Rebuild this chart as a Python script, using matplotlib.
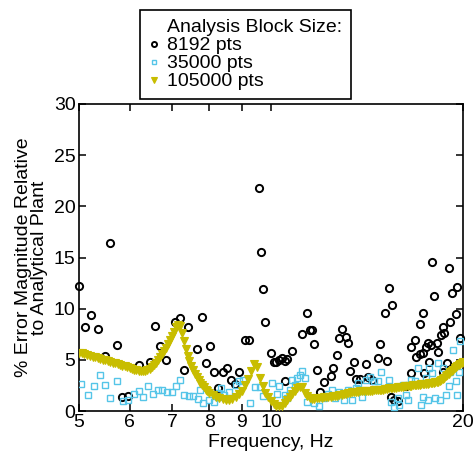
import matplotlib
matplotlib.use("Agg")
import matplotlib.pyplot as plt
from matplotlib.lines import Line2D
from matplotlib.ticker import FixedLocator, NullLocator, FixedFormatter

plt.rcParams['font.family'] = ['Liberation Sans', 'DejaVu Sans']

# 8192-pt block analysis (black circles): frequency (Hz), % error
f_8192 = [5.0, 5.11, 5.23, 5.36, 5.49, 5.6, 5.73, 5.85, 5.96, 6.22, 6.46, 6.57, 6.7, 6.84,
          7.07, 7.2, 7.3, 7.4, 7.66, 7.8, 7.9, 8.03, 8.15, 8.27, 8.4, 8.53, 8.65, 8.77, 8.9,
          9.1, 9.25, 9.57, 9.64, 9.7, 9.8, 10.0, 10.1, 10.2, 10.3, 10.4, 10.5, 10.5, 10.6, 10.8,
          11.2, 11.4, 11.5, 11.6, 11.7, 11.8, 11.95, 12.1, 12.4, 12.5, 12.7, 12.8, 12.9, 13.1,
          13.2, 13.3, 13.5, 13.6, 13.8, 14.1, 14.2, 14.4, 14.7, 14.8, 15.1, 15.2, 15.3, 15.4,
          15.5, 15.6, 15.8, 16.3, 16.6, 16.6, 16.8, 16.9, 17.1, 17.1, 17.3, 17.3, 17.4, 17.5,
          17.6, 17.7, 17.8, 17.9, 18.0, 18.2, 18.3, 18.5, 18.6, 18.6, 18.7, 18.9, 19.0, 19.1,
          19.2, 19.5, 19.6, 19.8]
e_8192 = [12.2, 8.2, 9.4, 8.0, 5.4, 16.4, 6.45, 1.4, 1.5, 4.5, 4.75, 8.3, 6.35, 5.0,
          8.7, 9.05, 4.0, 8.2, 6.1, 9.15, 4.65, 6.4, 3.85, 2.2, 3.8, 4.2, 3.0, 2.65, 3.85,
          6.95, 6.95, 21.8, 15.5, 11.9, 8.7, 5.7, 4.8, 4.8, 5.0, 5.15, 4.9, 2.95, 5.05, 5.85,
          7.5, 9.55, 7.9, 7.9, 6.55, 4.0, 1.85, 2.8, 3.4, 4.2, 5.5, 7.1, 8.0, 7.25,
          6.6, 3.95, 4.8, 3.1, 3.1, 4.55, 3.3, 3.0, 5.2, 6.5, 9.6, 4.9, 12.0, 1.4,
          10.4, 1.1, 1.0, 2.4, 6.3, 3.7, 6.95, 5.3, 8.5, 5.55, 9.55, 5.65, 3.7, 6.3,
          6.6, 4.8, 6.45, 14.6, 11.2, 6.6, 5.75, 7.4, 8.25, 3.85, 7.6, 4.65, 14.0, 8.65,
          11.5, 9.5, 12.15, 7.1]

# 35000-pt block analysis (cyan squares)
f_35000 = [5.04, 5.17, 5.28, 5.4, 5.5, 5.6, 5.74, 5.87, 5.97, 6.09, 6.2, 6.31, 6.42, 6.54,
           6.64, 6.75, 6.88, 7.0, 7.1, 7.2, 7.3, 7.44, 7.55, 7.67, 7.74, 7.83, 7.99, 8.13,
           8.25, 8.3, 8.35, 8.45, 8.58, 8.8, 8.9, 9.05, 9.28, 9.44, 9.6, 9.7, 10.05, 10.22,
           10.3, 10.5, 10.6, 10.7, 10.8, 10.9, 10.97, 11.1, 11.2, 11.3, 11.4, 11.7, 11.9,
           12.1, 12.3, 12.45, 12.6, 12.8, 13.0, 13.2, 13.4, 13.6, 13.7, 13.9, 14.1, 14.3,
           14.5, 14.7, 14.9, 15.1, 15.3, 15.4, 15.6, 15.8, 15.9, 16.1, 16.3, 16.4, 16.6,
           16.8, 17.0, 17.2, 17.3, 17.5, 17.6, 17.7, 17.9, 18.1, 18.3, 18.4, 18.6, 18.8,
           19.0, 19.1, 19.3, 19.5, 19.6, 19.7, 19.8]
e_35000 = [2.65, 1.6, 2.4, 3.5, 2.5, 1.25, 2.9, 1.0, 1.1, 1.65, 2.0, 1.4, 2.4, 1.7,
           2.05, 2.05, 1.9, 1.9, 2.4, 3.0, 1.55, 1.5, 1.45, 1.15, 2.05, 0.8, 1.1, 0.9,
           1.4, 1.75, 2.2, 1.55, 1.9, 2.5, 2.9, 3.0, 0.75, 2.3, 2.3, 1.45, 2.7, 1.7,
           2.4, 1.55, 1.25, 2.05, 3.0, 2.5, 3.2, 3.5, 3.9, 3.2, 0.9, 0.75, 0.45,
           1.25, 1.7, 2.05, 1.25, 1.9, 1.1, 2.05, 1.1, 2.2, 2.7, 1.4, 3.0, 3.35,
           2.9, 2.9, 3.85, 2.2, 3.0, 0.9, 0.4, 1.25, 0.6, 2.5, 1.55, 1.1, 3.0,
           2.9, 4.2, 0.6, 1.4, 3.2, 1.1, 4.2, 3.7, 1.25, 4.65, 1.1, 4.2, 1.55,
           2.4, 3.85, 6.0, 2.9, 1.55, 3.85, 6.8]

# 105000-pt block analysis (yellow triangles)
f_105000 = [5.0, 5.05, 5.1, 5.15, 5.2, 5.25, 5.3, 5.35, 5.4, 5.45,
            5.5, 5.55, 5.6, 5.65, 5.7, 5.75, 5.8, 5.85, 5.9, 5.95,
            6.0, 6.05, 6.1, 6.15, 6.2, 6.25, 6.3, 6.35, 6.4, 6.45,
            6.5, 6.55, 6.6, 6.65, 6.7, 6.75, 6.8, 6.85, 6.9, 6.95,
            7.0, 7.05, 7.1, 7.15, 7.2, 7.25, 7.3, 7.35, 7.4, 7.45,
            7.5, 7.55, 7.6, 7.65, 7.7, 7.75, 7.8, 7.85, 7.9, 7.95,
            8.0, 8.1, 8.2, 8.3, 8.4, 8.5, 8.6, 8.7, 8.8, 8.9,
            9.0, 9.1, 9.2, 9.3, 9.4, 9.5, 9.6, 9.7, 9.8, 9.9,
            10.0, 10.1, 10.2, 10.3, 10.4, 10.5, 10.6, 10.7, 10.8, 10.9,
            11.0, 11.1, 11.2, 11.3, 11.4, 11.5, 11.6, 11.7, 11.8, 11.9,
            12.0, 12.1, 12.2, 12.3, 12.4, 12.5, 12.6, 12.7, 12.8, 12.9,
            13.0, 13.1, 13.2, 13.3, 13.4, 13.5, 13.6, 13.7, 13.8, 13.9,
            14.0, 14.1, 14.2, 14.3, 14.4, 14.5, 14.6, 14.7, 14.8, 14.9,
            15.0, 15.1, 15.2, 15.3, 15.4, 15.5, 15.6, 15.7, 15.8, 15.9,
            16.0, 16.1, 16.2, 16.3, 16.4, 16.5, 16.6, 16.7, 16.8, 16.9,
            17.0, 17.1, 17.2, 17.3, 17.4, 17.5, 17.6, 17.7, 17.8, 17.9,
            18.0, 18.1, 18.2, 18.3, 18.4, 18.5, 18.6, 18.7, 18.8, 18.9,
            19.0, 19.1, 19.2, 19.3, 19.4, 19.5, 19.6, 19.7, 19.8, 19.9,
            20.0]
e_105000 = [5.7, 5.62, 5.55, 5.48, 5.4, 5.32, 5.25, 5.18, 5.1, 5.02,
            4.95, 4.88, 4.8, 4.72, 4.65, 4.58, 4.5, 4.42, 4.35, 4.28,
            4.2, 4.12, 4.05, 4.0, 3.95, 3.92, 3.9, 3.93, 4.0, 4.12,
            4.3, 4.5, 4.7, 5.0, 5.3, 5.6, 5.9, 6.2, 6.5, 6.9,
            7.3, 7.75, 8.2, 8.45, 8.3, 7.6, 6.8, 6.1, 5.4, 4.9,
            4.4, 4.0, 3.6, 3.3, 3.0, 2.75, 2.5, 2.3, 2.1, 1.95,
            1.8, 1.6, 1.4, 1.25, 1.15, 1.1, 1.1, 1.2, 1.4, 1.7,
            2.0, 2.5, 3.1, 3.9, 4.6, 4.3, 3.2, 2.4, 1.8, 1.4,
            1.0, 0.7, 0.5, 0.45, 0.5, 0.8, 1.1, 1.4, 1.7, 2.0,
            2.2, 2.35, 2.3, 1.8, 1.5, 1.3, 1.2, 1.2, 1.25, 1.3,
            1.3, 1.35, 1.35, 1.4, 1.4, 1.45, 1.5, 1.5, 1.55, 1.6,
            1.65, 1.7, 1.75, 1.8, 1.85, 1.9, 1.9, 1.9, 1.95, 1.95,
            1.95, 2.0, 2.0, 2.0, 2.0, 2.05, 2.05, 2.1, 2.1, 2.1,
            2.1, 2.15, 2.15, 2.2, 2.2, 2.2, 2.25, 2.25, 2.3, 2.3,
            2.35, 2.35, 2.4, 2.4, 2.4, 2.45, 2.45, 2.5, 2.5, 2.5,
            2.55, 2.55, 2.6, 2.6, 2.6, 2.65, 2.65, 2.7, 2.7, 2.75,
            2.75, 2.8, 2.8, 2.85, 2.9, 3.0, 3.1, 3.25, 3.4, 3.5,
            3.65, 3.8, 3.9, 4.05, 4.2, 4.3, 4.4, 4.5, 4.6, 4.7,
            4.8]

x_ticks = [5, 6, 7, 8, 9, 10, 20]
x_tick_labels = ['5', '6', '7', '8', '9', '10', '20']
y_ticks = [0, 5, 10, 15, 20, 25, 30]
legend_labels = ['8192 pts', '35000 pts', '105000 pts']
legend_title = 'Analysis Block Size:'

fig = plt.figure(figsize=(4.76, 4.54), dpi=100)
ax = fig.add_axes([79/476, 1-411/454, (463-79)/476, (411-104)/454])

yellow = '#c8bd00'
cyan = '#55c5e8'

h1, = ax.plot(f_8192, e_8192, linestyle='none', marker='o', ms=5.2, mfc='none',
              mec='black', mew=1.4, clip_on=False, zorder=3)
h2, = ax.plot(f_35000, e_35000, linestyle='none', marker='s', ms=3.8, mfc='none',
              mec=cyan, mew=1.0, zorder=4)
h3, = ax.plot(f_105000, e_105000, linestyle='none', marker='v', ms=6.2, mfc=yellow,
              mec=yellow, mew=0.8, zorder=5)

ax.set_xscale('log')
ax.set_xlim(5, 20)
ax.set_ylim(0, 30)
ax.xaxis.set_major_locator(FixedLocator(x_ticks))
ax.xaxis.set_major_formatter(FixedFormatter(x_tick_labels))
ax.xaxis.set_minor_locator(NullLocator())
ax.set_yticks(y_ticks)
ax.tick_params(axis='both', which='major', direction='in', length=5, width=1.1,
               labelsize=14, top=True, right=True, pad=2.5)
for s in ax.spines.values():
    s.set_linewidth(1.2)

ax.set_xlabel('Frequency, Hz', fontsize=14, labelpad=2)
ax.set_ylabel('% Error Magnitude Relative\nto Analytical Plant', fontsize=14,
              labelpad=4, linespacing=0.95)

blank = Line2D([], [], linestyle='none', marker=None)
leg = fig.legend([blank, h1, h2, h3], [legend_title] + legend_labels,
                 loc='upper left', bbox_to_anchor=(140/476, 1-10/454),
                 fontsize=14, frameon=True, fancybox=False,
                 edgecolor='black', framealpha=1, handlelength=0.5,
                 handletextpad=0.45, labelspacing=0.02, borderpad=0.45,
                 borderaxespad=0, markerscale=0.7)
leg.get_frame().set_linewidth(1.2)

fig.savefig('out.png', dpi=100)
